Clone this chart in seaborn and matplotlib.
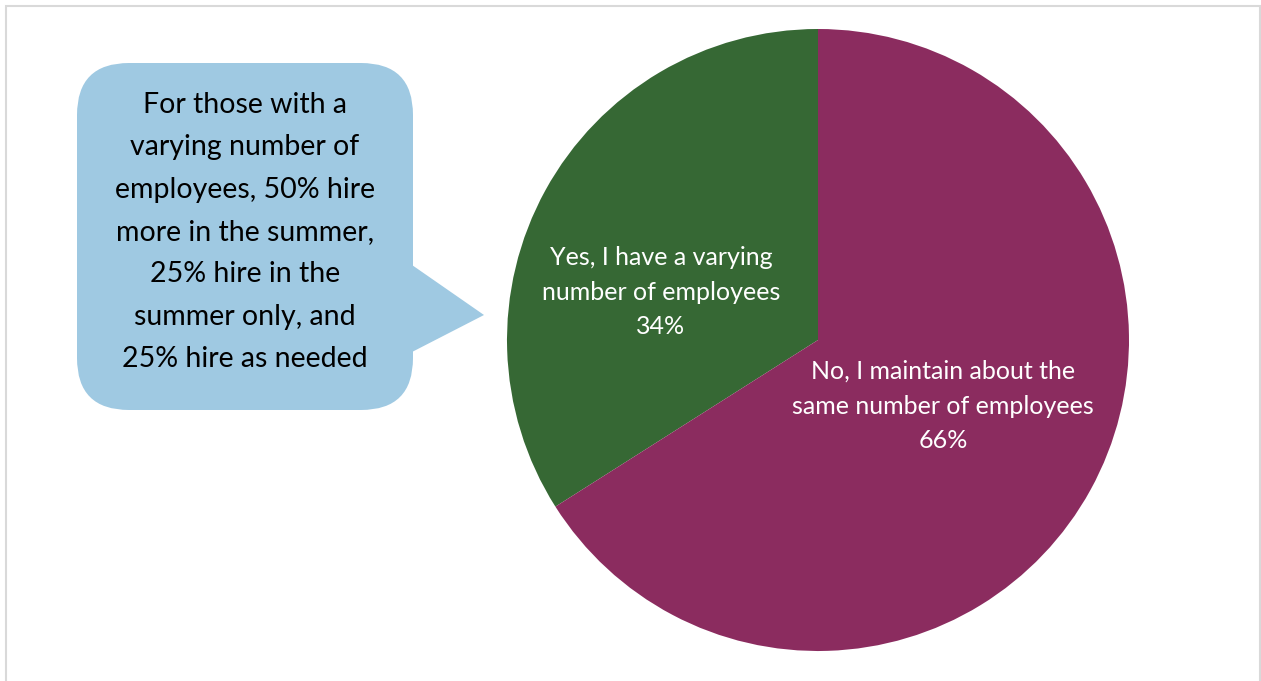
import matplotlib
matplotlib.use("Agg")
import matplotlib.pyplot as plt
from matplotlib.patches import FancyBboxPatch, Polygon, Rectangle
import seaborn as sns

categories = ["Yes, I have a varying\nnumber of employees",
              "No, I maintain about the\nsame number of employees"]
values = [34, 66]
colors = ["#366834", "#8B2C5F"]
callout_text = ("For those with a\nvarying number of\nemployees, 50% hire\n"
                "more in the summer,\n25% hire in the\nsummer only, and\n25% hire as needed")

sns.set_theme(style="white")
plt.rcParams['font.family'] = ['Lato', 'DejaVu Sans']

W, H = 1261, 681
fig = plt.figure(figsize=(W / 100, H / 100), dpi=100)
ax = fig.add_axes([0, 0, 1, 1])
ax.set_xlim(0, W)
ax.set_ylim(0, H)
ax.set_aspect('equal')
ax.axis('off')

# frame
ax.add_patch(Rectangle((6, -20), 1254, H - 6 + 20, fill=False, edgecolor="#D9D9D9", lw=1.5))

cx, cy, r = 818, H - 340, 311
wedges, _ = ax.pie(values, colors=colors, startangle=90, counterclock=True,
                   center=(cx, cy), radius=r, frame=True,
                   wedgeprops=dict(linewidth=0))
ax.set_xlim(0, W)
ax.set_ylim(0, H)
ax.axis('off')

label_pos = [(661, H - 292), (943, H - 406)]
for cat, v, (x, y) in zip(categories, values, label_pos):
    ax.text(x, y, f"{cat}\n{v}%", ha='center', va='center', color='white',
            fontsize=18, linespacing=1.62)

# callout
blue = "#9FC9E2"
ax.add_patch(FancyBboxPatch((77, H - 410), 336, 347,
                            boxstyle="round,pad=0,rounding_size=52",
                            facecolor=blue, edgecolor='none'))
ax.add_patch(Polygon([(412, H - 265), (484, H - 315), (412, H - 352)],
                     closed=True, facecolor=blue, edgecolor='none'))
ax.text(245, H - 232, callout_text, ha='center', va='center', color='black',
        fontsize=20.5, linespacing=1.78)

fig.savefig("out.png", dpi=100)
